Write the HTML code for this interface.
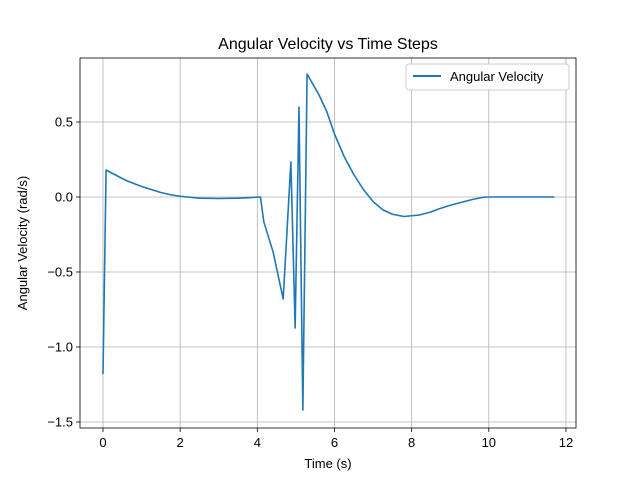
<!DOCTYPE html>
<html><head><meta charset="utf-8"><style>body{margin:0;background:#fff}svg{font-family:"Liberation Sans","DejaVu Sans",sans-serif}</style></head>
<body>
<svg id="c" width="640" height="480">
<rect width="640" height="480" fill="#fff"/>
<text x="328" y="49" text-anchor="middle" font-size="16">Angular Velocity vs Time Steps</text>
<g id="grid"></g>
<g id="series"></g>
<rect x="80" y="58" width="496" height="370" fill="none" stroke="#000" stroke-width="0.8"/>
<g id="ticks" font-size="13"></g>
<text x="328" y="468" text-anchor="middle" font-size="13">Time (s)</text>
<text transform="translate(27,243) rotate(-90)" text-anchor="middle" font-size="13">Angular Velocity (rad/s)</text>
<g>
<rect x="406" y="64" width="163" height="26" rx="3" fill="#fff" stroke="#ccc"/>
<line x1="413" y1="76" x2="441" y2="76" stroke="#1f77b4" stroke-width="2"/>
<text x="450" y="81" font-size="13">Angular Velocity</text>
</g>
</svg>
<script>
const xVals=[0,0.08,0.15,0.3,0.45,0.6,0.8,1,1.25,1.5,1.75,2,2.5,3,3.5,4.08,4.17,4.41,4.67,4.87,4.98,5.08,5.18,5.29,5.6,5.8,6,6.25,6.5,6.75,7,7.25,7.5,7.8,8.2,8.5,8.7,9,9.3,9.6,9.9,11.7];
const yVals=[-1.18,0.18,0.17,0.15,0.13,0.11,0.09,0.07,0.05,0.03,0.015,0.005,-0.008,-0.01,-0.008,0,-0.167,-0.367,-0.68,0.233,-0.873,0.6,-1.42,0.82,0.68,0.57,0.42,0.27,0.15,0.05,-0.03,-0.085,-0.115,-0.13,-0.12,-0.1,-0.08,-0.055,-0.035,-0.015,0,0];
const xTicks=[0,2,4,6,8,10,12];
const yTicks=[-1.5,-1.0,-0.5,0.0,0.5];
const yLabels=["\u22121.5","\u22121.0","\u22120.5","0.0","0.5"];
const X=v=>103+v*38.58, Y=v=>197-v*150;
const NS="http://www.w3.org/2000/svg";
const g=document.getElementById('grid'),t=document.getElementById('ticks'),s=document.getElementById('series');
function mk(tag,a,p){const e=document.createElementNS(NS,tag);for(const k in a)e.setAttribute(k,a[k]);p.appendChild(e);return e;}
xTicks.forEach(v=>{const x=X(v);
 const l=mk('line',{x1:x,x2:x,y1:58,y2:428,stroke:'#b0b0b0','stroke-width':0.8},g);
 
 
 mk('line',{x1:x,x2:x,y1:428,y2:432,stroke:'#000','stroke-width':0.8},t);
 const tx=mk('text',{x:x,y:447,'text-anchor':'middle'},t);tx.textContent=v;
 
 });
yTicks.forEach((v,i)=>{const y=Y(v);
 const l=mk('line',{x1:80,x2:576,y1:y,y2:y,stroke:'#b0b0b0','stroke-width':0.8},g);
 
 
 mk('line',{x1:76,x2:80,y1:y,y2:y,stroke:'#000','stroke-width':0.8},t);
 const tx=mk('text',{x:73,y:y+4.5,'text-anchor':'end'},t);tx.textContent=yLabels[i];
 
 });
const pl=mk('polyline',{points:xVals.map((v,i)=>X(v)+','+Y(yVals[i])).join(' '),fill:'none',stroke:'#1f77b4','stroke-width':1.6,'stroke-linejoin':'round'},s);


</script>
</body></html>
